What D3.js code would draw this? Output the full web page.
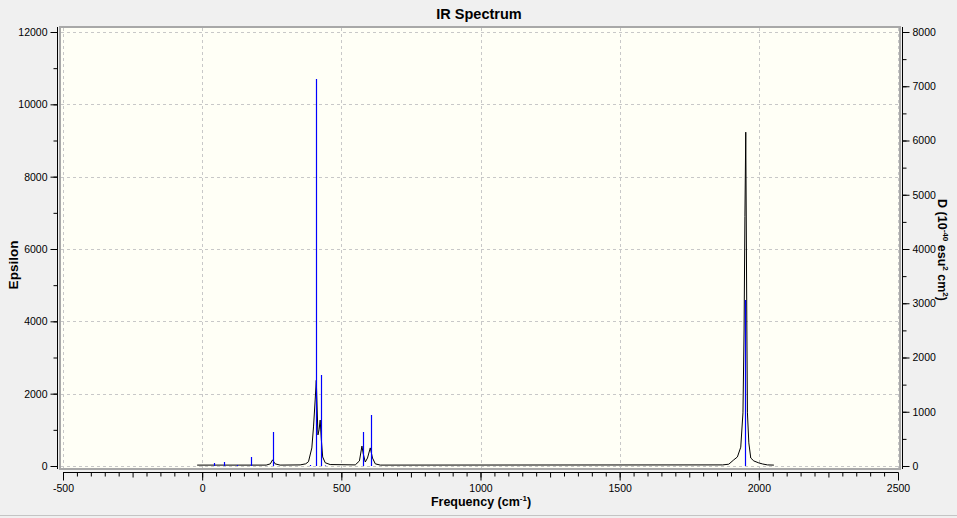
<!DOCTYPE html>
<html>
<head>
<meta charset="utf-8">
<script src="https://cdn.jsdelivr.net/npm/d3@7"></script>
<style>
	body { margin: 0; background: #f0f0f0; }
	svg { display: block; font-family: "Liberation Sans", Arial, sans-serif; }
	.tick text { font-size: 10.5px; fill: #000; }
	.title, .labels { font-weight: bold; }
</style>
</head>
<body>
<svg width="957" height="518"></svg>
<script>
// broadened spectrum (left axis, epsilon)
const curve_freq = [-18, 230, 245, 253, 262, 280, 352, 372, 382, 394, 400, 406, 410, 416, 420, 424, 428, 433, 442, 460,
	550, 565, 574, 579, 586, 594, 604, 612, 622, 640,
	1870, 1892, 1910, 1923, 1935, 1943, 1947, 1950, 1953, 1957, 1959, 1964, 1971, 1982, 2000, 2014, 2031, 2054];
const curve_eps = [25, 25, 60, 170, 60, 25, 30, 60, 120, 500, 1080, 1825, 2370, 860, 1000, 1270, 750, 250, 90, 40,
	30, 140, 550, 330, 110, 220, 500, 220, 60, 25,
	30, 50, 170, 250, 520, 1470, 3760, 6900, 9230, 3760, 1470, 640, 220, 140, 85, 55, 30, 25];

// stick spectrum (right axis, dipole strength)
const stick_freq = [41, 80, 125, 174, 253, 388, 409, 427, 440, 577, 605, 1951];
const stick_d = [55, 74, 18, 166, 627, 18, 7133, 1677, 10, 627, 940, 3060];

const x_ticks = [-500, 0, 500, 1000, 1500, 2000, 2500];
const eps_ticks = [0, 2000, 4000, 6000, 8000, 10000, 12000];
const d_ticks = [0, 1000, 2000, 3000, 4000, 5000, 6000, 7000, 8000];

const plot = {left: 60, right: 900, top: 27, bottom: 469};

const xScale = d3.scaleLinear().domain([-500, 2500]).range([63, 898]),
	yScale = d3.scaleLinear().domain([0, 12000]).range([466, 32]),
	dScale = d3.scaleLinear().domain([0, 8000]).range([466, 32]);

const fmt = d => String(d); // plain hyphen, like the original

const svg = d3.select('svg');

// panel bottom edge
svg.append('line')
	.attr('x1', 0).attr('x2', 957)
	.attr('y1', 515.5).attr('y2', 515.5)
	.attr('stroke', '#c4c4c4');

// plot area
svg.append('rect')
	.attr('x', plot.left)
	.attr('y', plot.top)
	.attr('width', plot.right - plot.left)
	.attr('height', plot.bottom - plot.top)
	.attr('fill', '#fffff6')
	.attr('stroke', '#a8a8a8')
	.attr('stroke-width', 2);

let grid = svg.append('g')
	.attr('stroke', '#c8c8c8')
	.attr('stroke-dasharray', '3,3');

grid.selectAll()
	.data(x_ticks)
	.enter()
	.append('line')
	.attr('x1', d => Math.round(xScale(d)) + 0.5)
	.attr('x2', d => Math.round(xScale(d)) + 0.5)
	.attr('y1', plot.top + 1)
	.attr('y2', plot.bottom - 1);

grid.selectAll()
	.data(eps_ticks)
	.enter()
	.append('line')
	.attr('x1', plot.left + 1)
	.attr('x2', plot.right - 1)
	.attr('y1', d => Math.round(yScale(d)) + 0.5)
	.attr('y2', d => Math.round(yScale(d)) + 0.5);

// axes
let left = svg.append('g')
	.attr('transform', 'translate(57.5,0)')
	.call(d3.axisLeft(yScale).tickValues(d3.range(0, 12001, 1000))
		.tickSize(4).tickFormat(''));
left.select('.domain').attr('d', `M0,${plot.top}V${plot.bottom}`);
svg.append('g')
	.attr('transform', 'translate(57.5,0)')
	.call(d3.axisLeft(yScale).tickValues(eps_ticks).tickSize(7).tickPadding(3).tickFormat(fmt))
	.call(g => g.select('.domain').remove());

let right = svg.append('g')
	.attr('transform', 'translate(902.5,0)')
	.call(d3.axisRight(dScale).tickValues(d3.range(0, 8001, 500))
		.tickSize(4).tickFormat(''));
right.select('.domain').attr('d', `M0,${plot.top}V${plot.bottom}`);
svg.append('g')
	.attr('transform', 'translate(902.5,0)')
	.call(d3.axisRight(dScale).tickValues(d_ticks).tickSize(7).tickPadding(3).tickFormat(fmt))
	.call(g => g.select('.domain').remove());

let bottom = svg.append('g')
	.attr('transform', 'translate(0,472.5)')
	.call(d3.axisBottom(xScale).tickValues(d3.range(-500, 2501, 50))
		.tickSize(4).tickFormat(''));
bottom.select('.domain').attr('d', `M${xScale(-500)},0H${xScale(2500)}`);
bottom.selectAll('.tick line').attr('y2', d => d % 250 === 0 ? 5 : 4);
svg.append('g')
	.attr('transform', 'translate(0,472.5)')
	.call(d3.axisBottom(xScale).tickValues(x_ticks).tickSize(8).tickPadding(4).tickFormat(fmt))
	.call(g => g.select('.domain').remove());

svg.selectAll('.domain, .tick line').attr('stroke', '#000');

// broadened curve
let line = d3.line()
	.x((d, i) => xScale(curve_freq[i]))
	.y(d => yScale(d));

svg.append('path')
	.datum(curve_eps)
	.attr('d', line)
	.attr('fill', 'none')
	.attr('stroke', '#000')
	.attr('stroke-width', 1);

// sticks, drawn over the curve
svg.append('g')
	.selectAll()
	.data(stick_freq)
	.enter()
	.append('line')
	.attr('x1', d => Math.round(xScale(d)) + 0.5)
	.attr('x2', d => Math.round(xScale(d)) + 0.5)
	.attr('y1', dScale(0))
	.attr('y2', (d, i) => dScale(stick_d[i]))
	.attr('stroke', '#0000ff')
	.attr('stroke-width', 1.2);

// title
svg.append('text')
	.attr('x', 479)
	.attr('y', 19)
	.attr('text-anchor', 'middle')
	.attr('class', 'title')
	.style('font-size', '14.5px')
	.text('IR Spectrum');

// label for x-axis
let xl = svg.append('text')
	.attr('x', 481)
	.attr('y', 506)
	.attr('text-anchor', 'middle')
	.attr('class', 'labels')
	.style('font-size', '12.5px');
xl.append('tspan').text('Frequency (cm');
xl.append('tspan').attr('dy', -5).style('font-size', '8px').text('-1');
xl.append('tspan').attr('dy', 5).text(')');

// label for y-axis
svg.append('text')
	.attr('transform', 'translate(18,265) rotate(-90)')
	.attr('text-anchor', 'middle')
	.attr('class', 'labels')
	.style('font-size', '13.5px')
	.text('Epsilon');

// label for right axis
let yr = svg.append('text')
	.attr('transform', 'translate(938,250) rotate(90)')
	.attr('text-anchor', 'middle')
	.attr('class', 'labels')
	.style('font-size', '12.5px');
yr.append('tspan').text('D (10');
yr.append('tspan').attr('dy', -5).style('font-size', '8px').text('-40');
yr.append('tspan').attr('dy', 5).text(' esu');
yr.append('tspan').attr('dy', -5).style('font-size', '8px').text('2');
yr.append('tspan').attr('dy', 5).text(' cm');
yr.append('tspan').attr('dy', -5).style('font-size', '8px').text('2');
yr.append('tspan').attr('dy', 5).text(')');
</script>
</body>
</html>
